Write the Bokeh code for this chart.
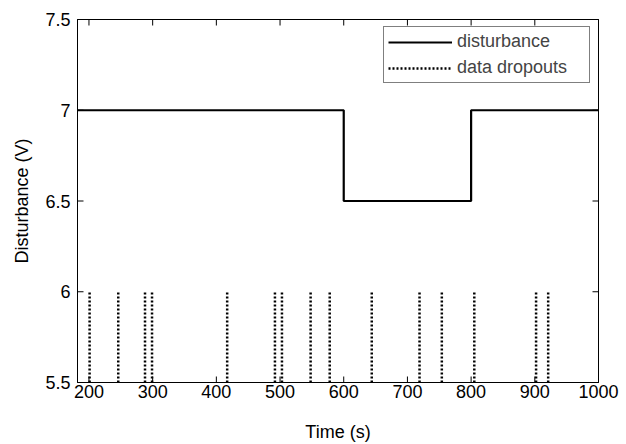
import math
from bokeh.plotting import figure
from bokeh.models import LinearAxis, Range1d, Legend, LegendItem, FixedTicker
from bokeh.embed import file_html
from bokeh.resources import INLINE

# Data
dist_time = [182, 600, 600, 800, 800, 1000]
dist_value = [7.0, 7.0, 6.5, 6.5, 7.0, 7.0]
dropout_times = [201, 246, 288, 299, 417, 492, 503, 548, 578, 644, 719, 754, 805, 902, 921]
dropout_low = 5.5
dropout_high = 6.0
x_ticks = [200, 300, 400, 500, 600, 700, 800, 900, 1000]
y_ticks = [5.5, 6.0, 6.5, 7.0, 7.5]
x_min, x_max = 182, 1000
y_min, y_max = 5.5, 7.5

FONT = "Liberation Sans"
FS = "18px"

p = figure(width=626, height=444, output_backend="svg", toolbar_location=None,
           x_range=Range1d(x_min, x_max), y_range=Range1d(y_min, y_max),
           min_border_left=77, min_border_right=28, min_border_top=19, min_border_bottom=62,
           x_axis_label="Time (s)", y_axis_label="Disturbance (V)")
p.grid.visible = False
p.outline_line_color = "black"
p.outline_line_width = 1
p.background_fill_color = "white"
p.border_fill_color = "white"

r_dist = p.line(dist_time, dist_value, line_color="black", line_width=2.2)
r_drop = p.segment(x0=dropout_times, y0=[dropout_low] * len(dropout_times),
                   x1=dropout_times, y1=[dropout_high] * len(dropout_times),
                   line_color="black", line_width=2.5, line_dash="2 2")

# inward box ticks (half of each dash is clipped by the frame)
nx, ny = len(x_ticks), len(y_ticks)
p.scatter(x=x_ticks, y=[y_min] * nx, marker="dash", angle=math.pi / 2, size=12,
          line_color="black", line_width=1)
p.scatter(x=x_ticks, y=[y_max] * nx, marker="dash", angle=math.pi / 2, size=12,
          line_color="black", line_width=1)
p.scatter(x=[x_min] * ny, y=y_ticks, marker="dash", size=12, line_color="black", line_width=1)
p.scatter(x=[x_max] * ny, y=y_ticks, marker="dash", size=12, line_color="black", line_width=1)

def style_axis(ax, labels=True):
    ax.axis_line_color = "black"
    ax.axis_line_width = 1
    ax.major_tick_in = 0
    ax.major_tick_out = 0
    ax.major_tick_line_color = None
    ax.minor_tick_line_color = None
    ax.major_label_text_font = FONT
    ax.major_label_text_font_size = FS
    ax.major_label_text_color = "black"
    ax.axis_label_text_font = FONT
    ax.axis_label_text_font_size = FS
    ax.axis_label_text_font_style = "normal"
    ax.axis_label_text_color = "black"
    if not labels:
        ax.major_label_text_font_size = "0px"
        ax.major_label_text_alpha = 0

p.xaxis.ticker = FixedTicker(ticks=x_ticks)
p.yaxis.ticker = FixedTicker(ticks=y_ticks)
p.yaxis.major_label_overrides = {5.5: "5.5", 6.0: "6", 6.5: "6.5", 7.0: "7", 7.5: "7.5"}
style_axis(p.xaxis[0])
style_axis(p.yaxis[0])
p.xaxis.major_label_standoff = 2
p.xaxis.axis_label_standoff = 21
p.yaxis.major_label_standoff = 7
p.yaxis.axis_label_standoff = 10

top = LinearAxis(ticker=FixedTicker(ticks=x_ticks))
style_axis(top, labels=False)
p.add_layout(top, "above")
right = LinearAxis(ticker=FixedTicker(ticks=y_ticks))
style_axis(right, labels=False)
p.add_layout(right, "right")

legend = Legend(items=[LegendItem(label="disturbance", renderers=[r_dist]),
                       LegendItem(label="data dropouts", renderers=[r_drop])],
                location=(306, 299), margin=0, padding=4, spacing=5,
                label_text_font=FONT, label_text_font_size=FS,
                glyph_width=64, glyph_height=18, label_height=18, label_width=128,
                label_standoff=5,
                border_line_color="black", border_line_width=1,
                background_fill_alpha=1)
p.add_layout(legend, "center")

open("out.html", "w").write(file_html(p, INLINE))
